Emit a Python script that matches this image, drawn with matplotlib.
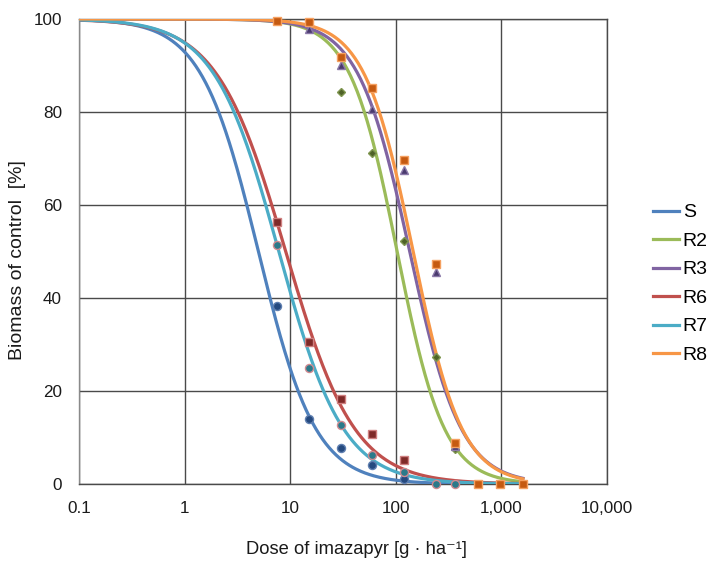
import numpy as np
import matplotlib
matplotlib.use("Agg")
import matplotlib.pyplot as plt

plt.rcParams['font.family'] = ['Liberation Sans', 'DejaVu Sans']

series = ["S", "R2", "R3", "R6", "R7", "R8"]
line_colors = ["#4F81BD", "#9BBB59", "#8064A2", "#C0504D", "#4BACC6", "#F79646"]
marker_colors = ["#254A7F", "#4F6228", "#4A3A6E", "#7F2A28", "#2B7A8A", "#C55A11"]
marker_edges = ["#5F7FB0", "#7F9650", "#8A78A8", "#D08080", "#D08A90", "#F5A060"]
marker_shapes = ["o", "D", "^", "s", "o", "s"]
marker_sizes = [5.8, 4.2, 6.3, 5.8, 5.8, 5.8]

# observed doses (g/ha) and biomass (% of control)
dose_S = [7.5, 15, 30, 60, 120]
bio_S = [38.2, 13.9, 7.7, 4.1, 1.0]
dose_R2 = [30, 60, 120, 240, 360]
bio_R2 = [84.2, 71.2, 52.2, 27.3, 7.6]
dose_R3 = [15, 30, 60, 120, 240, 360]
bio_R3 = [97.8, 90.1, 80.7, 67.5, 45.6, 8.2]
dose_R6 = [7.5, 15, 30, 60, 120]
bio_R6 = [56.3, 30.6, 18.2, 10.8, 5.1]
dose_R7 = [7.5, 15, 30, 60, 120, 240, 360]
bio_R7 = [51.3, 25.0, 12.7, 6.3, 2.5, 0.0, 0.0]
dose_R8 = [7.5, 15, 30, 60, 120, 240, 360, 600, 960, 1600]
bio_R8 = [99.5, 99.3, 91.9, 85.2, 69.6, 47.3, 8.8, 0.0, 0.0, 0.0]

# fitted log-logistic parameters (ED50 in g/ha, slope b)
ed50 = [5.0, 103.0, 135.5, 9.07, 7.8, 146.0]
slope = [1.60, 1.94, 1.78, 1.33, 1.42, 1.88]

xticks = [0.1, 1, 10, 100, 1000, 10000]
xticklabels = ["0.1", "1", "10", "100", "1,000", "10,000"]
yticks = [0, 20, 40, 60, 80, 100]

doses = [dose_S, dose_R2, dose_R3, dose_R6, dose_R7, dose_R8]
bios = [bio_S, bio_R2, bio_R3, bio_R6, bio_R7, bio_R8]

fig = plt.figure(figsize=(7.13, 5.62), dpi=100)
ax = fig.add_axes([79/713, 1-484/562, (607-79)/713, (484-19)/562])

xs = np.logspace(np.log10(0.1), np.log10(1600), 400)
handles = []
for i, name in enumerate(series):
    ys = 100.0 / (1.0 + (xs / ed50[i]) ** slope[i])
    h, = ax.plot(xs, ys, color=line_colors[i], lw=2.3, label=name, zorder=3)
    handles.append(h)
for i, name in enumerate(series):
    ax.plot(doses[i], bios[i], linestyle="none", marker=marker_shapes[i],
            ms=marker_sizes[i], mfc=marker_colors[i], mec=marker_edges[i],
            mew=1.0, zorder=4, clip_on=False)

ax.set_xscale("log")
ax.set_xlim(0.1, 10000)
ax.set_ylim(0, 100)
ax.set_xticks(xticks)
ax.set_xticklabels(xticklabels)
ax.set_yticks(yticks)
ax.minorticks_off()
ax.tick_params(axis="both", length=0, labelsize=12.3, colors="#1a1a1a")
ax.tick_params(axis="y", pad=12.2)
ax.tick_params(axis="x", pad=12.2)
ax.grid(True, color="#4a4a4a", lw=1.0, zorder=1)
for sp in ax.spines.values():
    sp.set_color("#4a4a4a")
    sp.set_linewidth(1.0)
ax.spines["left"].set_color("#8a8a8a")

ax.set_xlabel("Dose of imazapyr [g · ha\u207b\u00b9]", fontsize=13.2, color="#1a1a1a")
ax.xaxis.set_label_coords((356.5 - 79) / 528, (484 - 541) / 465)
ax.set_ylabel("Biomass of control  [%]", fontsize=14, color="#1a1a1a")
ax.yaxis.set_label_coords((26 - 79) / 528, (484 - 260) / 465)

leg = fig.legend(handles=handles, labels=series, loc="upper left",
                 bbox_to_anchor=(647/713, 1-198/562), frameon=False,
                 fontsize=14, handlelength=1.34, handletextpad=0.2,
                 labelspacing=0.56, borderaxespad=0, borderpad=0.3)

fig.savefig("out.png", dpi=100)
